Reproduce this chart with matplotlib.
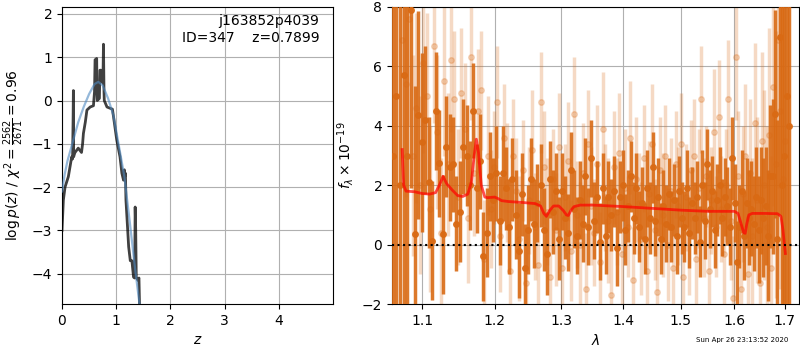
import numpy as np
import matplotlib
matplotlib.use('Agg')
import matplotlib.pyplot as plt
from matplotlib.ticker import FixedLocator, FormatStrFormatter, NullLocator

# ---- p(z) panel ----
z_grid = [0.0, 0.025, 0.056, 0.117, 0.148, 0.179, 0.195, 0.205, 0.21, 0.215,
          0.225, 0.24, 0.30, 0.36, 0.38, 0.395, 0.43, 0.46, 0.52, 0.58,
          0.60, 0.61, 0.64, 0.645, 0.65, 0.69, 0.70, 0.72, 0.75, 0.755,
          0.765, 0.775, 0.78, 0.83, 0.89, 0.93, 0.95, 1.01, 1.07, 1.105,
          1.135, 1.15, 1.16, 1.17, 1.18, 1.23, 1.26, 1.29, 1.32, 1.34,
          1.35, 1.36, 1.37, 1.40, 1.42, 1.43, 1.435]
logpz = [-3.0, -2.3, -2.0, -1.76, -1.53, -1.3, -1.35, -0.4, 0.23, -1.3,
         -1.25, -1.2, -1.1, -1.2, -1.0, -0.76, -0.5, -0.22, -0.15, -0.12,
         0.2, 0.94, 0.97, 0.3, 0.0, 0.05, 0.7, 0.7, 0.6, 0.4,
         1.3, 0.2, 0.0, -0.15, -0.18, -0.2, -0.37, -0.91, -1.3, -1.68,
         -1.84, -1.6, -1.75, -1.68, -2.3, -3.38, -3.7, -3.7, -4.08, -4.1,
         -2.46, -3.0, -4.08, -4.15, -4.1, -4.7, -5.0]

z_fit = [0.0, 0.05, 0.1, 0.2, 0.3, 0.4, 0.5, 0.6, 0.67, 0.75, 0.85, 0.95,
         1.05, 1.15, 1.25, 1.35, 1.43]
logpz_fit = [-2.1, -1.7, -1.4, -0.95, -0.5, -0.15, 0.15, 0.38, 0.43, 0.35,
             0.05, -0.35, -1.05, -1.75, -2.8, -3.9, -4.7]

# ---- spectrum panel ----
dark_flux = [3.0, 5.0, 2.0, 5.7, 3.0, 7.9, 0.35, 4.36, 3.44, 4.2,
             2.1, 0.13, 4.5, 2.74, 0.35, 3.3, 2.6, 2.7, 0.7, 1.1,
             3.3, 3.0, 2.0, 4.5, 1.9, 2.8, -0.4, 0.4, 2.3, 1.5,
             2.4, 0.8, 2.4, 1.9, 0.6, 2.2, 1.0, -0.2, 1.7, -0.8,
             0.5, 2.2, 0.7, 1.4, 2.0, 0.5, -0.3, 2.2, 1.1, 1.8,
             0.2, 1.8, 0.9, 0.4, 2.5, 1.2, 0.3, 1.5, 0.7, 2.3,
             0.6, 2.9, 0.8, 1.6, 0.1, 1.9, 0.3, 1.6, 1.0, 1.8,
             -0.1, 1.6, 2.0, 0.5, 1.3, 2.3, 0.9, 1.9, 0.6, 1.4,
             0.2, 1.9, 0.9, 2.6, 0.8, 1.6, 0.2, 1.3, 0.7, 1.7,
             0.6, 1.5, 0.3, 1.8, 0.9, 0.6, 1.9, 0.4, 1.4, 0.9,
             1.6, 0.1, 2.0, 0.8, 2.7, 1.2, 1.8, 0.5, 1.5, 2.0,
             0.9, 1.6, 1.3, 0.6, 2.9, 1.4, -0.6, 0.6, 1.8, 0.3,
             1.4, 0.9, 1.2, 0.7, 1.6, 0.5, 1.5, 0.9, 1.3, 0.3,
             2.3, 2.3, 4.4, 0.2, 7.0, 2.0, 3.0, 5.0, 4.0]
dark_err = [30, 30, 30, 8, 6, 6, 5, 3.5, 3.0, 2.5,
            2.2, 2.0, 2.0, 1.8, 2.0, 1.7, 1.8, 1.6, 1.6, 1.7,
            1.6, 1.7, 1.5, 1.6, 1.5, 1.6, 1.5, 1.5, 1.5, 1.4,
            1.6, 1.5, 1.6, 1.4, 1.6, 1.4, 1.5, 1.6, 1.4, 1.5,
            1.5, 1.4, 1.5, 1.3, 1.4, 1.4, 1.4, 1.3, 1.4, 1.3,
            1.4, 1.3, 1.4, 1.3, 1.3, 1.3, 1.3, 1.3, 1.3, 1.3,
            1.3, 1.3, 1.3, 1.2, 1.3, 1.2, 1.3, 1.2, 1.2, 1.2,
            1.3, 1.2, 1.2, 1.2, 1.2, 1.2, 1.2, 1.2, 1.2, 1.2,
            1.2, 1.3, 1.2, 1.2, 1.2, 1.3, 1.2, 1.2, 1.3, 1.2,
            1.2, 1.2, 1.3, 1.2, 1.2, 1.2, 1.3, 1.2, 1.2, 1.2,
            1.2, 1.2, 1.2, 1.3, 1.2, 1.3, 1.2, 1.3, 1.2, 1.3,
            1.3, 1.3, 1.3, 1.3, 1.4, 1.3, 1.4, 1.4, 1.4, 1.5,
            1.5, 1.6, 1.6, 1.6, 1.7, 1.8, 1.8, 2.0, 2.0, 2.2,
            2.4, 2.6, 3.5, 4.0, 6.0, 12, 20, 30, 30]

light_flux = [6.9, 5.4, 7.6, 3.0, 4.6, 2.0, 6.1, 5.0, 1.2, 6.7,
              3.8, 0.4, 5.5, 2.7, 6.2, 4.9, 1.6, 5.1, 3.9, 0.9,
              6.3, 2.4, 4.5, 5.2, -0.5, 3.0, 1.2, 2.6, 4.8, 0.3,
              3.6, 2.1, -0.9, 3.0, 1.8, 0.2, 2.5, -1.3, 1.5, 3.2,
              0.6, -0.7, 4.8, 2.6, 1.1, -1.1, 2.2, 0.5, 3.3, -0.8,
              1.6, 2.8, -0.2, 4.4, 1.0, 0.0, 2.4, -1.5, 3.4, 1.3,
              0.4, 2.7, -0.6, 3.9, 1.6, 0.8, -1.7, 2.6, 1.1, 3.1,
              -0.3, 1.9, 0.6, 3.6, -1.2, 2.2, 1.4, 0.2, 2.9, -0.9,
              1.7, 3.4, 0.5, -1.6, 2.5, 1.0, 3.0, 0.0, 1.8, -0.8,
              2.7, 1.3, 3.4, -1.1, 1.6, 0.4, 2.5, 3.0, -0.5, 1.9,
              4.9, 0.9, 2.3, -0.9, 1.5, 3.8, 0.6, 4.3, 1.2, -0.3,
              2.0, 4.9, 0.8, -1.8, 6.3, 2.3, -1.5, 1.7, 3.0, -1.0,
              2.4, 0.3, 4.1, 1.5, -1.3, 3.5, 2.0, 0.6, 3.7, -0.8,
              5.3, 2.7, 6.9, 4.5, 2.2, 3.5]
light_err = [4.0, 3.8, 3.6, 3.4, 3.2, 3.0, 3.0, 2.8, 2.8, 2.6,
             2.6, 2.5, 2.5, 2.4, 2.4, 2.3, 2.3, 2.2, 2.2, 2.2,
             2.1, 2.1, 2.1, 2.0, 2.0, 2.0, 2.0, 1.9, 1.9, 1.9,
             1.8, 2.0, 1.7, 1.9, 1.8, 2.1, 1.7, 1.9, 1.8, 2.0,
             1.8, 2.0, 1.7, 1.9, 1.8, 2.1, 1.7, 1.9, 1.8, 2.0,
             1.8, 2.0, 1.7, 1.9, 1.8, 2.1, 1.7, 1.9, 1.8, 2.0,
             1.8, 2.0, 1.7, 1.9, 1.8, 2.1, 1.7, 1.9, 1.8, 2.0,
             1.8, 2.0, 1.7, 1.9, 1.8, 2.1, 1.7, 1.9, 1.8, 2.0,
             1.8, 2.0, 1.7, 1.9, 1.8, 2.1, 1.7, 1.9, 1.8, 2.0,
             1.8, 2.0, 1.7, 1.9, 1.8, 2.1, 1.7, 1.9, 1.8, 2.0,
             1.8, 2.0, 1.7, 1.9, 1.8, 2.1, 1.7, 1.9, 1.8, 2.0,
             1.9, 2.0, 2.0, 2.1, 2.1, 2.2, 2.2, 2.3, 2.4, 2.4,
             2.5, 2.6, 2.7, 2.8, 2.9, 3.0, 3.2, 3.4, 3.6, 3.8,
             4.0, 4.5, 5.0, 6.0, 7.0, 8.0]

# wavelength sampling (regular grid, microns)
dark_wave = np.linspace(1.062, 1.708, len(dark_flux))
light_wave = np.linspace(1.074, 1.700, len(light_flux))

model_wave = [1.074, 1.076, 1.079, 1.09, 1.10, 1.11, 1.118, 1.124, 1.128, 1.133,
              1.14, 1.148, 1.155, 1.162, 1.167, 1.171, 1.174, 1.177, 1.181, 1.186,
              1.19, 1.20, 1.205, 1.21, 1.22, 1.24, 1.26, 1.268, 1.273, 1.277,
              1.282, 1.288, 1.296, 1.303, 1.308, 1.311, 1.315, 1.32, 1.33, 1.35,
              1.40, 1.45, 1.50, 1.55, 1.60, 1.607, 1.613, 1.618, 1.621, 1.624,
              1.628, 1.635, 1.66, 1.685, 1.692, 1.696, 1.699, 1.701]
model_flux = [3.2, 2.0, 1.8, 1.78, 1.72, 1.7, 1.75, 2.05, 2.3, 2.05,
              1.85, 1.65, 1.62, 1.7, 2.1, 3.0, 3.55, 3.1, 2.0, 1.6,
              1.58, 1.6, 1.55, 1.48, 1.45, 1.42, 1.38, 1.3, 1.05, 0.95,
              1.15, 1.3, 1.3, 1.15, 1.0, 0.98, 1.15, 1.28, 1.33, 1.33,
              1.28, 1.22, 1.16, 1.12, 1.12, 1.05, 0.7, 0.4, 0.38, 0.7,
              1.0, 1.05, 1.05, 1.04, 0.95, 0.5, 0.0, -0.3]

orange = '#d96a14'

fig = plt.figure(figsize=(8, 3.5), dpi=100)

# left: redshift PDF
ax1 = fig.add_axes([62/800, 46/350, 271/800, 297/350])
ax1.plot(z_fit, logpz_fit, color='#4f8ac2', alpha=0.6, lw=1.6, zorder=3)
ax1.plot(z_grid, logpz, color='k', alpha=0.75, lw=2, zorder=2)
ax1.set_xlim(0, 5.0)
ax1.set_ylim(-4.7, 2.16)
ax1.set_xticks([0, 1, 2, 3, 4])
ax1.set_xlabel(r'$z$')
ax1.set_ylabel(r'$\log p(z)$ / $\chi^2=\frac{2562}{2671}=0.96$')
ax1.text(0.95, 0.975, 'j163852p4039\nID=347    z=0.7899', ha='right', va='top',
         transform=ax1.transAxes, fontsize=10)
ax1.grid(True)

# right: spectrum
ax2 = fig.add_axes([392/800, 46/350, 407/800, 297/350])
ax2.errorbar(light_wave, light_flux, yerr=light_err, marker='o', ms=4,
             linestyle='None', color=orange, alpha=0.25, elinewidth=2.5,
             capsize=0, zorder=2)
ax2.errorbar(dark_wave, dark_flux, yerr=dark_err, marker='o', ms=4,
             linestyle='None', color=orange, alpha=0.9, elinewidth=2.5,
             capsize=0, zorder=3)
ax2.plot(model_wave, model_flux, color='red', alpha=0.7, lw=2, zorder=4)
ax2.axhline(0, color='k', linestyle=':', lw=1.5, zorder=5)
ax2.set_xscale('log')
ax2.xaxis.set_major_locator(FixedLocator([1.1, 1.2, 1.3, 1.4, 1.5, 1.6, 1.7]))
ax2.xaxis.set_major_formatter(FormatStrFormatter('%.1f'))
ax2.xaxis.set_minor_locator(NullLocator())
ax2.set_xlim(1.061, 1.729)
ax2.set_ylim(-2, 8)
ax2.set_xlabel(r'$\lambda$')
ax2.set_ylabel(r'$f_\lambda \times 10^{-19}$')
ax2.grid(True)

fig.text(742/800, 1 - 340/350, 'Sun Apr 26 23:13:52 2020', fontsize=5,
         ha='center', va='center')

fig.savefig('out.png', dpi=100)
